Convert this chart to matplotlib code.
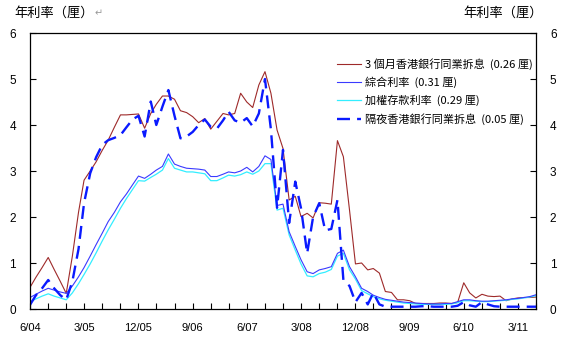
import pandas as pd
import matplotlib
matplotlib.use('Agg')
import matplotlib.pyplot as plt

# monthly averages, 6/2004 - 6/2011 (% p.a.)
months = pd.date_range('2004-06-01', periods=85, freq='MS')

hibor_3m = [0.47, 0.69, 0.90, 1.12, 0.86, 0.60, 0.34, 1.15, 2.10, 2.80,
            3.00, 3.20, 3.45, 3.67, 3.95, 4.22, 4.22, 4.23, 4.24, 3.93,
            4.25, 4.45, 4.63, 4.63, 4.56, 4.31, 4.27, 4.18, 4.05, 4.14,
            3.91, 4.08, 4.25, 4.22, 4.25, 4.69, 4.50, 4.38, 4.87, 5.16,
            4.69, 3.89, 3.49, 2.37, 2.45, 2.01, 2.08, 1.98, 2.31, 2.30,
            2.28, 3.66, 3.31, 2.15, 0.98, 1.00, 0.85, 0.88, 0.78, 0.38,
            0.36, 0.20, 0.20, 0.18, 0.12, 0.12, 0.12, 0.12, 0.13, 0.13,
            0.12, 0.14, 0.57, 0.35, 0.24, 0.32, 0.28, 0.27, 0.28, 0.18,
            0.22, 0.24, 0.25, 0.25, 0.26]

composite = [0.25, 0.32, 0.39, 0.45, 0.41, 0.37, 0.34, 0.50, 0.70, 0.90,
             1.15, 1.40, 1.65, 1.90, 2.10, 2.33, 2.50, 2.70, 2.89, 2.84,
             2.93, 3.02, 3.10, 3.37, 3.15, 3.10, 3.06, 3.05, 3.04, 3.02,
             2.88, 2.88, 2.93, 2.98, 2.96, 3.00, 3.08, 2.98, 3.10, 3.33,
             3.25, 2.25, 2.28, 1.68, 1.36, 1.07, 0.81, 0.77, 0.85, 0.88,
             0.92, 1.21, 1.28, 0.92, 0.70, 0.45, 0.38, 0.30, 0.25, 0.21,
             0.19, 0.17, 0.15, 0.14, 0.13, 0.12, 0.11, 0.11, 0.11, 0.12,
             0.12, 0.16, 0.20, 0.20, 0.18, 0.17, 0.17, 0.18, 0.19, 0.20,
             0.22, 0.23, 0.25, 0.27, 0.31]

deposit = [0.16, 0.22, 0.28, 0.33, 0.28, 0.24, 0.20, 0.35, 0.55, 0.75,
           0.98, 1.22, 1.48, 1.72, 1.95, 2.19, 2.40, 2.60, 2.79, 2.78,
           2.86, 2.93, 3.02, 3.27, 3.06, 3.02, 2.98, 2.98, 2.96, 2.94,
           2.79, 2.79, 2.85, 2.91, 2.89, 2.92, 2.98, 2.93, 3.00, 3.16,
           3.16, 2.15, 2.19, 1.61, 1.28, 0.98, 0.72, 0.70, 0.77, 0.80,
           0.86, 1.15, 1.21, 0.85, 0.65, 0.40, 0.33, 0.27, 0.22, 0.19,
           0.17, 0.15, 0.13, 0.12, 0.11, 0.10, 0.10, 0.10, 0.10, 0.10,
           0.11, 0.14, 0.18, 0.18, 0.17, 0.16, 0.16, 0.17, 0.18, 0.19,
           0.21, 0.22, 0.24, 0.26, 0.29]

hibor_on = [0.09, 0.30, 0.45, 0.63, 0.45, 0.30, 0.20, 0.60, 1.30, 2.30,
            2.95, 3.30, 3.57, 3.67, 3.72, 3.78, 3.95, 4.12, 4.20, 3.75,
            4.51, 4.00, 4.40, 4.76, 4.20, 3.71, 3.75, 3.85, 4.00, 4.12,
            3.96, 3.92, 4.10, 4.29, 4.10, 4.05, 4.15, 3.97, 4.25, 5.00,
            3.90, 2.20, 3.46, 1.87, 2.77, 2.19, 1.21, 2.00, 2.30, 1.71,
            1.74, 2.37, 0.63, 0.50, 0.15, 0.35, 0.10, 0.35, 0.10, 0.05,
            0.05, 0.05, 0.05, 0.05, 0.05, 0.06, 0.06, 0.05, 0.05, 0.05,
            0.05, 0.07, 0.15, 0.08, 0.05, 0.15, 0.10, 0.06, 0.05, 0.05,
            0.05, 0.05, 0.05, 0.05, 0.05]

labels = ['3 個月香港銀行同業拆息  (0.26 厘)',
          '綜合利率  (0.31 厘)',
          '加權存款利率  (0.29 厘)',
          '隔夜香港銀行同業拆息  (0.05 厘)']
y_title = '年利率（厘）'

cjk = ['Noto Sans CJK TC', 'DejaVu Sans']
num_font = 'Liberation Sans'

fig = plt.figure(figsize=(5.63, 3.43), dpi=100)
ax = fig.add_axes([30 / 563, 34 / 343, 506 / 563, 276 / 343])

ax.plot(months, hibor_3m, color='#9e2a2a', lw=0.8, label=labels[0])
ax.plot(months, deposit, color='#33eeff', lw=0.9, zorder=2.1)
ax.plot(months, composite, color='#3a3aff', lw=0.8, label=labels[1], zorder=2.2)
# keep legend order: composite before deposit
ax.plot([], [], color='#33eeff', lw=0.9, label=labels[2])
ax.plot(months, hibor_on, color='#0a1aff', lw=1.7, dashes=(5.5, 3),
        label=labels[3], zorder=2.3)

ax.set_xlim(months[0], months[-1])
ax.set_ylim(0, 6)

# tick every quarter, label every 9 months
ax.set_xticks(months[::3])
ax.set_xticklabels([f'{d.month}/{d.year % 100:02d}' if i % 3 == 0 else ''
                    for i, d in enumerate(months[::3])])
ax.set_yticks(range(7))

ax.tick_params(axis='x', direction='in', length=4, width=0.8, pad=10,
               labelsize=8)
ax.tick_params(axis='y', direction='in', length=4, width=0.8,
               left=True, right=True, labelleft=True, labelright=True,
               labelsize=8.5, pad=10)
for lab in ax.get_xticklabels() + ax.get_yticklabels():
    lab.set_fontfamily(num_font)

for s in ax.spines.values():
    s.set_linewidth(0.9)

leg = ax.legend(loc='upper right', bbox_to_anchor=(0.994, 0.91),
                frameon=False, borderaxespad=0, borderpad=0,
                handlelength=2.1, handletextpad=0.4, labelspacing=0.62,
                prop={'family': cjk, 'size': 8})

fig.text(14 / 563, 1 - 13 / 343, y_title, family=cjk, fontsize=9.5,
         va='center', ha='left')
fig.text(95 / 563, 1 - 13 / 343, '↵', family=['DejaVu Sans'], fontsize=7,
         color='#999999', va='center', ha='left')
fig.text(543 / 563, 1 - 13 / 343, y_title, family=cjk, fontsize=9.5,
         va='center', ha='right')

plt.savefig('out.png', dpi=100)
plt.close()
